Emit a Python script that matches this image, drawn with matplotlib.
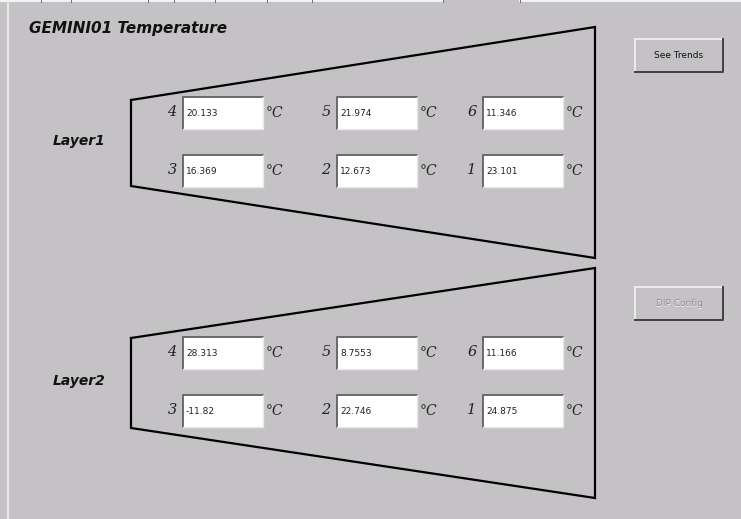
import matplotlib.pyplot as plt
from matplotlib.patches import Rectangle

# Sensor readings (°C), sensors laid out as in the panel: top row 4 5 6, bottom row 3 2 1
layers = ['Layer1', 'Layer2']
sensor_rows = [[4, 5, 6], [3, 2, 1]]
temps = {
    'Layer1': {4: '20.133', 5: '21.974', 6: '11.346', 3: '16.369', 2: '12.673', 1: '23.101'},
    'Layer2': {4: '28.313', 5: '8.7553', 6: '11.166', 3: '-11.82', 2: '22.746', 1: '24.875'},
}
title = 'GEMINI01 Temperature'
buttons = ['See Trends', 'DIP Config']

bg = '#c4c2c5'
fig = plt.figure(figsize=(7.41, 5.19), dpi=100, facecolor=bg)
ax = fig.add_axes([0, 0, 1, 1])
ax.set_xlim(0, 741)
ax.set_ylim(519, 0)
ax.axis('off')
ax.set_facecolor(bg)

# window frame: tab strip on top, light edge on the left
ax.plot([0, 443], [1, 1], color='#f2f2f2', lw=1.5)
ax.plot([520, 741], [1, 1], color='#f2f2f2', lw=1.5)
for xd in [41, 71, 148, 174, 215, 267, 312, 443, 520]:
    ax.plot([xd, xd], [0, 2], color='#707070', lw=0.7)
ax.plot([8, 8], [3, 519], color='#f0f0f0', lw=1.2)

ax.text(29, 29, title, fontsize=11, fontweight='bold', style='italic',
        family='DejaVu Sans', va='center', ha='left', color='#111111')

# layout of each layer block
layer_y0 = [0, 240]
col_box_x = [183, 337, 483]
row_y = [97, 155]
box_w, box_h = 80, 32

for li, name in enumerate(layers):
    dy = layer_y0[li]
    if li == 0:
        xs = [131, 595, 595, 131, 131]
        ys = [100, 27, 258, 186, 100]
    else:
        xs = [131, 595, 595, 131, 131]
        ys = [338, 268, 498, 428, 338]
    ax.plot(xs, ys, color='black', lw=1.6, solid_joinstyle='miter')
    ax.text(53, (ys[0] + ys[3]) / 2 - 2, name, fontsize=10, fontweight='bold',
            style='italic', family='DejaVu Sans', ha='left', va='center', color='#111111')
    for ri, row in enumerate(sensor_rows):
        y = row_y[ri] + dy
        for ci, s in enumerate(row):
            x = col_box_x[ci]
            ax.add_patch(Rectangle((x, y), box_w, box_h, facecolor='white', edgecolor='none'))
            ax.plot([x, x, x + box_w], [y + box_h, y, y], color='#606060', lw=1.3)
            ax.plot([x, x + box_w, x + box_w], [y + box_h, y + box_h, y], color='#e8e8e8', lw=1.0)
            ax.text(x + 3, y + box_h / 2 + 1, temps[name][s], fontsize=6.5,
                    family='DejaVu Sans', ha='left', va='center', color='#222222')
            ax.text(x - 11, y + box_h / 2 - 1, str(s), fontsize=10.5, style='italic',
                    family='DejaVu Serif', ha='center', va='center', color='#222222')
            ax.text(x + box_w + 11, y + box_h / 2, '°C', fontsize=10, style='italic',
                    family='DejaVu Serif', ha='center', va='center', color='#222222')

# buttons
btn_y = [39, 287]
for bi, label in enumerate(buttons):
    x, y, w, h = 635, btn_y[bi], 88, 33
    ax.add_patch(Rectangle((x, y), w, h, facecolor=bg, edgecolor='none'))
    ax.plot([x, x, x + w], [y + h, y, y], color='#f4f4f4', lw=1.2)
    ax.plot([x, x + w, x + w], [y + h, y + h, y], color='#404040', lw=1.4)
    if bi == 0:
        ax.text(x + w / 2, y + h / 2, label, fontsize=6.5, family='DejaVu Sans',
                ha='center', va='center', color='#111111')
    else:
        ax.text(x + w / 2 + 0.8, y + h / 2 + 0.8, label, fontsize=6.5, family='DejaVu Sans',
                ha='center', va='center', color='#f4f4f4')
        ax.text(x + w / 2, y + h / 2, label, fontsize=6.5, family='DejaVu Sans',
                ha='center', va='center', color='#8e8c90')

fig.savefig('out.png', dpi=100, facecolor=bg)
